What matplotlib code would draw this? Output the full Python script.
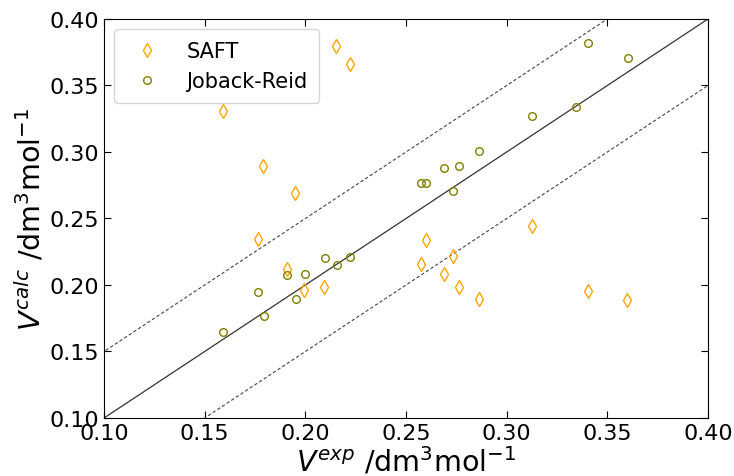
import matplotlib
matplotlib.use("Agg")
import matplotlib.pyplot as plt
import numpy as np

# SAFT predictions vs experiment
saftExp = [0.159, 0.215, 0.222, 0.179, 0.195, 0.1765, 0.191, 0.1995, 0.2095,
           0.260, 0.2573, 0.2732, 0.2689, 0.2763, 0.2861, 0.3124, 0.3402, 0.3600, 0.2732]
saftCalc = [0.331, 0.380, 0.366, 0.2895, 0.269, 0.2346, 0.212, 0.196, 0.1985,
            0.234, 0.2158, 0.2216, 0.2085, 0.1987, 0.1892, 0.2444, 0.1955, 0.1887, 0.406]

# Joback-Reid predictions vs experiment
jrExp = [0.1593, 0.1767, 0.1796, 0.1909, 0.1952, 0.1998, 0.2098, 0.2157, 0.2220,
         0.2573, 0.2600, 0.2689, 0.2762, 0.2732, 0.2861, 0.3124, 0.3343, 0.3404, 0.3601]
jrCalc = [0.1649, 0.1950, 0.1769, 0.2073, 0.1897, 0.2080, 0.2203, 0.2153, 0.2210,
          0.2765, 0.2765, 0.2880, 0.2892, 0.2710, 0.3010, 0.3270, 0.3336, 0.3822, 0.3704]

fig = plt.figure(figsize=(7.34, 4.77), dpi=100)
ax = fig.add_axes([0.1417, 0.1216, 0.8229, 0.8365])

line = np.array([0.0, 0.5])
ax.plot(line, line, color='#333333', linewidth=0.9)
ax.plot(line, line + 0.05, color='#444444', linewidth=0.8, linestyle=(0, (3, 2)))
ax.plot(line, line - 0.05, color='#444444', linewidth=0.8, linestyle=(0, (3, 2)))

ax.plot(saftExp, saftCalc, linestyle='none', marker='d', markersize=7.5,
        markerfacecolor='none', markeredgecolor='orange', markeredgewidth=1.0, label='SAFT')
ax.plot(jrExp, jrCalc, linestyle='none', marker='o', markersize=5.5,
        markerfacecolor='none', markeredgecolor='olive', markeredgewidth=1.0, label='Joback-Reid')

ax.set_xlim(0.10, 0.40)
ax.set_ylim(0.10, 0.40)
ax.set_xticks(np.arange(0.10, 0.401, 0.05))
ax.set_yticks(np.arange(0.10, 0.401, 0.05))
ax.tick_params(direction='in', top=True, right=True, labelsize=16, length=5)
ax.set_xlabel(r'$V^{exp}$ /dm$^3$mol$^{-1}$', fontsize=20.5, labelpad=1)
ax.set_ylabel(r'$V^{calc}$ /dm$^3$mol$^{-1}$', fontsize=20.5, labelpad=2)
ax.legend(loc='upper left', fontsize=15, handletextpad=0.9, borderpad=0.55)

fig.savefig('out.png', dpi=100)
